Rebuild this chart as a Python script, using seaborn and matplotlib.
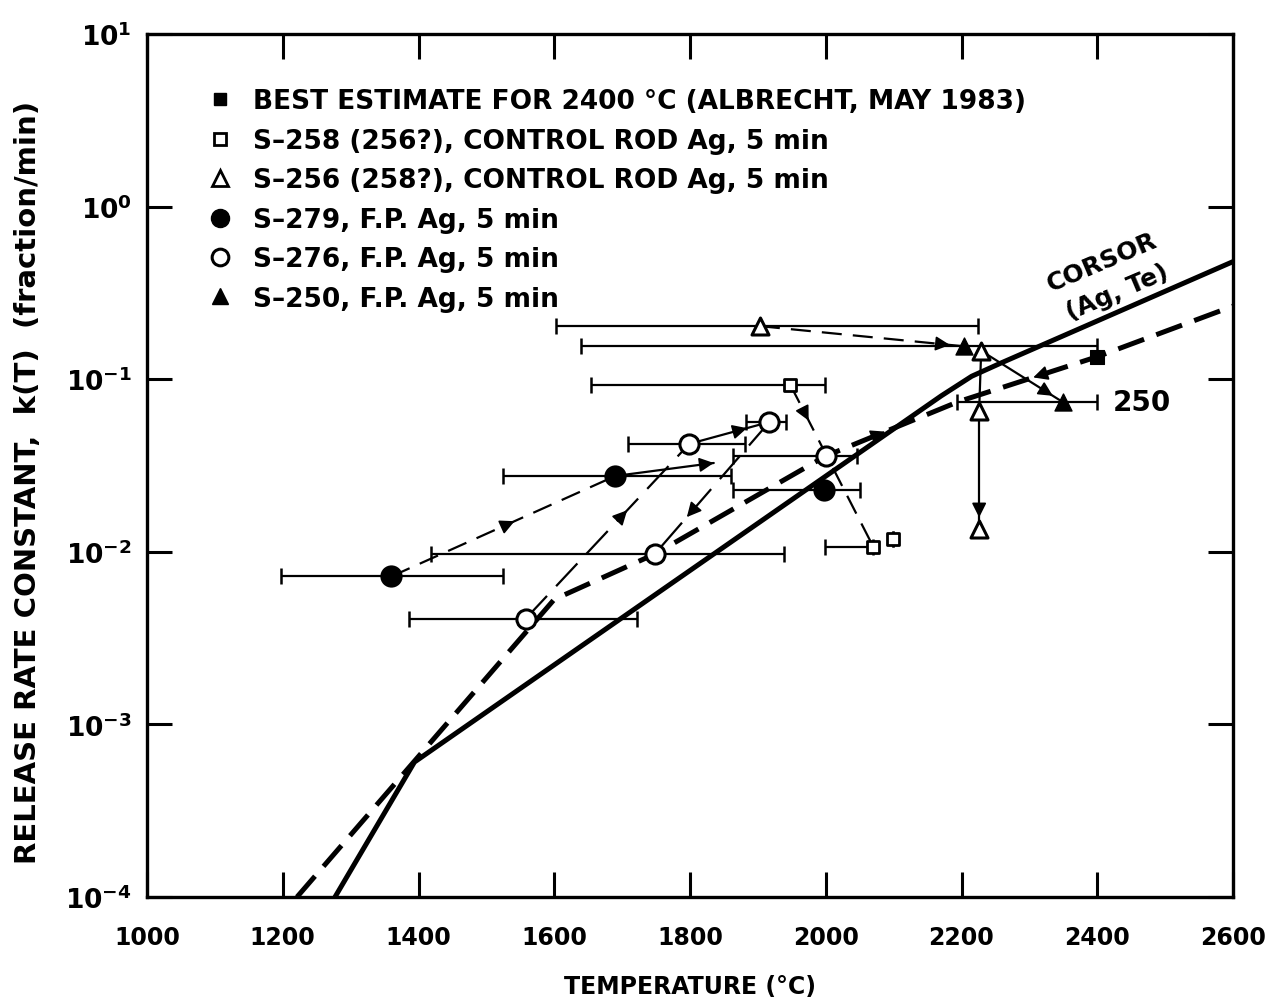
import matplotlib
matplotlib.use("Agg")
import numpy as np
import pandas as pd
import matplotlib.pyplot as plt
import seaborn as sns
from matplotlib.lines import Line2D

# ---------------- data ----------------
# CORSOR model curve (Ag, Te)
corsor_T = [1277, 1394, 2170, 2215, 2260, 2600]
corsor_k = [1.0e-4, 6.05e-4, 0.080, 0.104, 0.125, 0.48]

# heavy dashed curve
fit_T = [1221, 1600, 1748, 2000, 2195, 2400, 2600]
fit_k = [1.0e-4, 5.3e-3, 0.0097, 0.0359, 0.074, 0.135, 0.265]

# best estimate for 2400 C
best_T = [2400]
best_k = [0.135]

# S-258 (256?), control rod Ag
s258_T = [1948, 2070, 2099]
s258_k = [0.0925, 0.0107, 0.0119]
s258_lo = [1654, 1999, 2099]
s258_hi = [1999, 2070, 2099]

# S-256 (258?), control rod Ag
s256_T = [1903, 2229, 2226, 2226]
s256_k = [0.203, 0.146, 0.0655, 0.0135]
s256_lo = [1603, 2229, 2226, 2226]
s256_hi = [2225, 2229, 2226, 2226]

# S-279, F.P. Ag
s279_T = [1360, 1690, 1998]
s279_k = [7.2e-3, 0.0275, 0.0228]
s279_lo = [1197, 1525, 1864]
s279_hi = [1525, 1860, 2050]

# S-276, F.P. Ag
s276_T = [1558, 1748, 1799, 1917, 2001]
s276_k = [4.1e-3, 9.7e-3, 0.0422, 0.0565, 0.0359]
s276_lo = [1386, 1418, 1709, 1883, 1864]
s276_hi = [1722, 1939, 1881, 1941, 2046]

# S-250, F.P. Ag
s250_T = [2204, 2349]
s250_k = [0.155, 0.0738]
s250_lo = [1639, 2194]
s250_hi = [2400, 2400]

# step arrows: start, end, line style, position of the arrow head along the segment
arrow_T0 = [1360, 1690, 1558, 1799, 1917, 1948, 1903, 2229, 2226, 2229, 2400, 2000]
arrow_k0 = [7.2e-3, 0.0275, 4.1e-3, 0.0422, 0.0565, 0.0925, 0.203, 0.146, 0.0655, 0.146, 0.135, 0.0359]
arrow_T1 = [1690, 1835, 1799, 1917, 1748, 2070, 2204, 2226, 2226, 2349, 2195, 2195]
arrow_k1 = [0.0275, 0.0327, 0.0422, 0.0565, 0.0097, 0.0107, 0.155, 0.0655, 0.0135, 0.0738, 0.074, 0.074]
arrow_style = ["dash", "solid", "long", "solid", "long", "dash", "dash", "solid", "solid", "solid", "none", "none"]
arrow_head = [0.55, 1.0, 0.62, 0.72, 0.72, 0.22, 0.93, None, 0.9, 0.88, 0.46, 0.45]

legend_labels = [
    "BEST ESTIMATE FOR 2400 \u00b0C (ALBRECHT, MAY 1983)",
    "S\u2013258 (256?), CONTROL ROD Ag, 5 min",
    "S\u2013256 (258?), CONTROL ROD Ag, 5 min",
    "S\u2013279, F.P. Ag, 5 min",
    "S\u2013276, F.P. Ag, 5 min",
    "S\u2013250, F.P. Ag, 5 min",
]

x_ticks = [1000, 1200, 1400, 1600, 1800, 2000, 2200, 2400, 2600]
y_exponents = [-4, -3, -2, -1, 0, 1]

# ---------------- style ----------------
sns.set_theme(style="ticks")
plt.rcParams["font.family"] = ["DejaVu Sans"]
plt.rcParams["font.weight"] = "bold"
plt.rcParams["axes.labelweight"] = "bold"
plt.rcParams["text.color"] = "black"
plt.rcParams["axes.labelcolor"] = "black"
plt.rcParams["mathtext.default"] = "bf"

W, H = 1270, 1004
fig = plt.figure(figsize=(W / 100, H / 100), dpi=100)
fig.patch.set_facecolor("white")
ax = fig.add_axes([147 / W, 1 - 898 / H, (1233 - 147) / W, (898 - 35) / H])
ax.set_facecolor("white")

ax.set_yscale("log")
ax.set_xlim(1000, 2600)
ax.set_ylim(1e-4, 10)

# model curves
sns.lineplot(x=corsor_T, y=corsor_k, color="black", lw=3.6, ax=ax, zorder=3, sort=False)
sns.lineplot(x=fit_T, y=fit_k, color="black", lw=3.6, ax=ax, zorder=3, sort=False,
             linestyle=(0, (5.5, 2.6)))


def along(T0, k0, T1, k1, f):
    T = T0 + f * (T1 - T0)
    k = 10 ** (np.log10(k0) + f * (np.log10(k1) - np.log10(k0)))
    return T, k


styles = {"dash": (0, (9, 5)), "long": (0, (14, 6)), "solid": "-"}
for T0, k0, T1, k1, st, hf in zip(arrow_T0, arrow_k0, arrow_T1, arrow_k1, arrow_style, arrow_head):
    if st != "none":
        ax.plot([T0, T1], [k0, k1], color="black", lw=1.6, ls=styles[st], zorder=2)
    if hf is not None:
        a = along(T0, k0, T1, k1, hf - 0.03)
        b = along(T0, k0, T1, k1, hf)
        ax.annotate("", xy=b, xytext=a, zorder=4,
                    arrowprops=dict(arrowstyle="-|>", color="black", lw=1.2,
                                    mutation_scale=22, shrinkA=0, shrinkB=0))

# temperature ranges
def xbars(T, k, lo, hi):
    T = np.asarray(T, float)
    err = [T - np.asarray(lo, float), np.asarray(hi, float) - T]
    ax.errorbar(T, k, xerr=err, fmt="none", ecolor="black", elinewidth=1.6,
                capsize=5.5, capthick=1.8, zorder=2)


xbars(s279_T, s279_k, s279_lo, s279_hi)
xbars(s276_T, s276_k, s276_lo, s276_hi)
xbars(s258_T, s258_k, s258_lo, s258_hi)
xbars(s256_T, s256_k, s256_lo, s256_hi)
xbars(s250_T, s250_k, s250_lo, s250_hi)

# measured points
sns.scatterplot(x=best_T, y=best_k, marker="s", s=95, color="black", edgecolor="black", ax=ax, zorder=6)
sns.scatterplot(x=s258_T, y=s258_k, marker="s", s=75, color="white", edgecolor="black", linewidth=2.0, ax=ax, zorder=6)
sns.scatterplot(x=s256_T, y=s256_k, marker="^", s=150, color="white", edgecolor="black", linewidth=2.2, ax=ax, zorder=6)
sns.scatterplot(x=s279_T, y=s279_k, marker="o", s=220, color="black", edgecolor="black", ax=ax, zorder=6)
sns.scatterplot(x=s276_T, y=s276_k, marker="o", s=190, color="white", edgecolor="black", linewidth=2.2, ax=ax, zorder=6)
sns.scatterplot(x=s250_T, y=s250_k, marker="^", s=150, color="black", edgecolor="black", ax=ax, zorder=6)

# annotations
ax.text(2407, 0.477, "CORSOR", rotation=23, ha="center", va="center", fontsize=18,
        rotation_mode="anchor")
ax.text(2429, 0.32, "(Ag, Te)", rotation=23, ha="center", va="center", fontsize=18,
        rotation_mode="anchor")
ax.text(2423, 0.0738, "250", ha="left", va="center", fontsize=20)

# legend
handles = [
    Line2D([], [], ls="none", marker="s", ms=9, mfc="black", mec="black"),
    Line2D([], [], ls="none", marker="s", ms=8, mfc="white", mec="black", mew=2.0),
    Line2D([], [], ls="none", marker="^", ms=11, mfc="white", mec="black", mew=2.0),
    Line2D([], [], ls="none", marker="o", ms=13, mfc="black", mec="black"),
    Line2D([], [], ls="none", marker="o", ms=12, mfc="white", mec="black", mew=2.2),
    Line2D([], [], ls="none", marker="^", ms=12, mfc="black", mec="black"),
]
leg = ax.legend(handles, legend_labels, loc="upper left", bbox_to_anchor=(0.056, 0.937),
                frameon=False, fontsize=19, handlelength=0.9, handletextpad=0.83,
                labelspacing=0.51, borderpad=0, borderaxespad=0)
for t in leg.get_texts():
    t.set_color("black")

# axes
ax.set_xticks(x_ticks)
ax.set_xticklabels([str(t) for t in x_ticks])
ax.set_yticks([10.0 ** e for e in y_exponents])
ax.set_yticklabels([r"$\mathbf{10^{%d}}$" % e for e in y_exponents])
ax.yaxis.set_minor_locator(matplotlib.ticker.NullLocator())
ax.xaxis.set_minor_locator(matplotlib.ticker.NullLocator())
ax.tick_params(which="major", direction="in", length=18, width=2.2, top=True, right=True,
               color="black", labelcolor="black")
ax.tick_params(axis="x", pad=20, labelsize=17)
ax.tick_params(axis="y", pad=11, labelsize=19)
for sp in ax.spines.values():
    sp.set_linewidth(2.4)
    sp.set_color("black")
    sp.set_visible(True)

ax.set_xlabel("TEMPERATURE (\u00b0C)", fontsize=17, labelpad=18)
ax.set_ylabel("RELEASE RATE CONSTANT,  k(T)  (fraction/min)", fontsize=21)
ax.yaxis.set_label_coords(-0.0967, 0.482)

fig.savefig("out.png", dpi=100, facecolor="white")
